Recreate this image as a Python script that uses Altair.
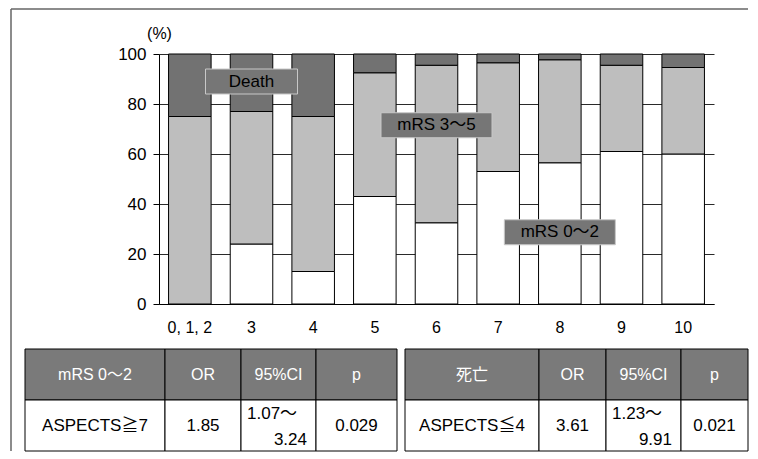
import altair as alt
import pandas as pd

# ---------------- data ----------------
CATEGORIES = ["0, 1, 2", "3", "4", "5", "6", "7", "8", "9", "10"]
MRS_0_2 = [0, 24, 13, 43, 32.5, 53, 56.5, 61, 60]
MRS_3_5 = [75, 53, 62, 49.5, 63, 43.5, 41.2, 34.5, 34.6]
DEATH = [25, 23, 25, 7.5, 4.5, 3.5, 2.3, 4.5, 5.4]
SEGMENTS = ["mRS 0～2", "mRS 3～5", "Death"]
Y_TICKS = [0, 20, 40, 60, 80, 100]

ANNOT_TEXT = ["Death", "mRS 3～5", "mRS 0～2"]
ANNOT_CAT = ["3", "6", "8"]
ANNOT_LO = [84, 66.5, 23.7]
ANNOT_HI = [94, 76.5, 33.7]

T1_HEADER = ["mRS 0～2", "OR", "95%CI", "p"]
T1_BODY = ["ASPECTS≧7", "1.85", "", "0.029"]
T1_CI = ["1.07～", "3.24"]
T2_HEADER = ["死亡", "OR", "95%CI", "p"]
T2_BODY = ["ASPECTS≦4", "3.61", "", "0.021"]
T2_CI = ["1.23～", "9.91"]

# ---------------- layout / style ----------------
FONT = "Liberation Sans, Arial, Noto Sans CJK JP, sans-serif"
PLOT_W, PLOT_H = 555, 250
LEFT_GAP = 134          # table starts this far left of the plot's left edge
TABLE_GAP = 45
T1_START = 0
T1_COLS = [140, 76, 75, 81]
T2_START = 380
T2_COLS = [134, 67, 75, 67]
TABLE_W = T2_START + sum(T2_COLS)
TABLE_H = 102
C_WHITE, C_LIGHT, C_DARK = "white", "#bebebe", "#727272"
C_BOX = "#767676"
C_HEAD = "#7a7a7a"
FRAME_L, FRAME_T, FRAME_R, FRAME_B = -148, -45, 589, 397

# ---------------- bar chart ----------------
rows = []
for i, c in enumerate(CATEGORIES):
    for k, (seg, vals) in enumerate(zip(SEGMENTS, [MRS_0_2, MRS_3_5, DEATH])):
        rows.append({"cat": c, "seg": seg, "value": vals[i], "order": k})
bar_df = pd.DataFrame(rows)

x_enc = alt.X(
    "cat:N",
    scale=alt.Scale(domain=CATEGORIES, paddingInner=0.31, paddingOuter=0.155),
    axis=alt.Axis(
        title=None, labelAngle=0, labelFontSize=16, labelColor="black",
        labelFont=FONT, ticks=False, tickSize=0, labelPadding=15,
        domainColor="black", domainWidth=1, grid=False,
    ),
)

bars = alt.Chart(bar_df).mark_bar(stroke="black", strokeWidth=1).encode(
    x=x_enc,
    y=alt.Y(
        "value:Q", stack="zero",
        scale=alt.Scale(domain=[0, 100], nice=False),
        axis=alt.Axis(
            values=Y_TICKS, title="(%)", titleAngle=0, titleX=0, titleY=-21,
            titleAlign="center", titleBaseline="middle", titleFontSize=16,
            titleFontWeight="normal", titleFont=FONT, titleColor="black",
            labelFontSize=17, labelFont=FONT, labelColor="black", labelPadding=7,
            tickSize=6, tickColor="black", domainColor="black",
            grid=True, gridColor="#2a2a2a", gridWidth=1,
        ),
    ),
    color=alt.Color("seg:N", scale=alt.Scale(domain=SEGMENTS, range=[C_WHITE, C_LIGHT, C_DARK]), legend=None),
    order=alt.Order("order:Q"),
)

ann_df = pd.DataFrame({"cat": ANNOT_CAT, "lo": ANNOT_LO, "hi": ANNOT_HI, "text": ANNOT_TEXT})
ann_df["mid"] = (ann_df["lo"] + ann_df["hi"]) / 2

box_death = alt.Chart(ann_df.iloc[[0]]).mark_bar(
    width=92, fill=C_BOX, stroke="#c8c8c8", strokeWidth=1
).encode(x=x_enc, y="lo:Q", y2="hi:Q")
box_mrs = alt.Chart(ann_df.iloc[1:]).mark_bar(
    width=111, fill=C_BOX, stroke="#c8c8c8", strokeWidth=1
).encode(x=x_enc, y="lo:Q", y2="hi:Q")
ann_text = alt.Chart(ann_df).mark_text(fontSize=17, font=FONT, color="black").encode(
    x=x_enc, y="mid:Q", text="text:N"
)

one = pd.DataFrame({"v": [0]})
frame_left = alt.Chart(one).mark_rule(color="#666666", strokeWidth=1.5).encode(
    x=alt.value(FRAME_L), y=alt.value(FRAME_T), y2=alt.value(FRAME_B)
)
frame_top = alt.Chart(one).mark_rule(color="#666666", strokeWidth=1.5).encode(
    x=alt.value(FRAME_L), x2=alt.value(FRAME_R), y=alt.value(FRAME_T)
)

bar_layer = alt.layer(bars, box_death, box_mrs, ann_text, frame_left, frame_top).properties(
    width=PLOT_W, height=PLOT_H
)

# ---------------- tables ----------------
cells = []
ci_rows = []
for start, widths, header, body, ci in [
    (T1_START, T1_COLS, T1_HEADER, T1_BODY, T1_CI),
    (T2_START, T2_COLS, T2_HEADER, T2_BODY, T2_CI),
]:
    x = start
    for j, w in enumerate(widths):
        cells.append({"x0": x, "x1": x + w, "xc": x + w / 2, "row": "h", "text": header[j]})
        cells.append({"x0": x, "x1": x + w, "xc": x + w / 2, "row": "b", "text": body[j]})
        if j == 2:
            ci_rows.append({"x0": x, "x1": x + w, "row": "b", "lo": ci[0], "hi": ci[1]})
        x += w
cell_df = pd.DataFrame(cells)
ci_df = pd.DataFrame(ci_rows)

tx = alt.Scale(domain=[0, TABLE_W], range=[-LEFT_GAP, TABLE_W - LEFT_GAP], nice=False, zero=False)
ty = alt.Scale(domain=["h", "b"], paddingInner=0, paddingOuter=0)

rects = alt.Chart(cell_df).mark_rect(stroke="black", strokeWidth=1).encode(
    x=alt.X("x0:Q", scale=tx, axis=None),
    x2="x1:Q",
    y=alt.Y("row:N", scale=ty, axis=None),
    fill=alt.Fill("row:N", scale=alt.Scale(domain=["h", "b"], range=[C_HEAD, "white"]), legend=None),
)
head_text = alt.Chart(cell_df[cell_df.row == "h"]).mark_text(
    fontSize=16, font=FONT, color="white"
).encode(x=alt.X("xc:Q", scale=tx, axis=None), y=alt.Y("row:N", scale=ty, axis=None), text="text:N")
body_text = alt.Chart(cell_df[cell_df.row == "b"]).mark_text(
    fontSize=17, font=FONT, color="black"
).encode(x=alt.X("xc:Q", scale=tx, axis=None), y=alt.Y("row:N", scale=ty, axis=None), text="text:N")
ci_lo = alt.Chart(ci_df).mark_text(
    fontSize=17, font=FONT, color="black", align="left", dx=6, dy=-12
).encode(x=alt.X("x0:Q", scale=tx, axis=None), y=alt.Y("row:N", scale=ty, axis=None), text="lo:N")
ci_hi = alt.Chart(ci_df).mark_text(
    fontSize=17, font=FONT, color="black", align="right", dx=-9, dy=14
).encode(x=alt.X("x1:Q", scale=tx, axis=None), y=alt.Y("row:N", scale=ty, axis=None), text="hi:N")

table = alt.layer(rects, head_text, body_text, ci_lo, ci_hi).properties(
    width=TABLE_W - LEFT_GAP, height=TABLE_H
)

chart = (
    alt.vconcat(bar_layer, table, spacing=TABLE_GAP, bounds="flush")
    .properties(padding={"left": 2, "top": 0, "right": 0, "bottom": 0})
    .configure(font=FONT)
    .configure_view(stroke=None)
)

chart.save("out.html", embed_options={"renderer": "svg", "actions": False})
